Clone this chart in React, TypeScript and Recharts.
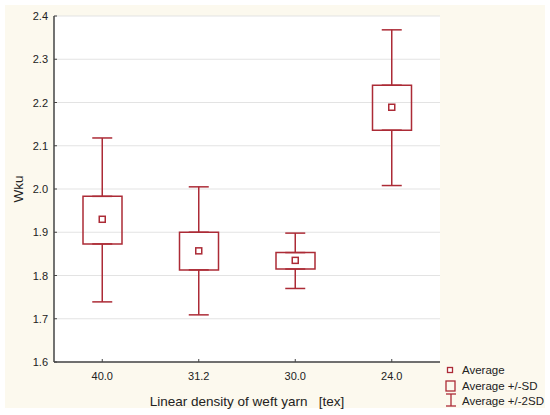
import { CartesianGrid, ComposedChart, Bar, Line, ErrorBar, XAxis, YAxis } from 'recharts';

const CATEGORIES = ['40.0', '31.2', '30.0', '24.0'];
const MEANS = [1.93, 1.857, 1.835, 2.189];
const SD_LOW = [1.873, 1.813, 1.815, 2.136];
const SD_HIGH = [1.983, 1.9, 1.853, 2.24];
const SD2_LOW = [1.739, 1.709, 1.77, 2.008];
const SD2_HIGH = [2.118, 2.005, 1.898, 2.368];
const Y_TICKS = [1.6, 1.7, 1.8, 1.9, 2.0, 2.1, 2.2, 2.3, 2.4];

const RED = '#ac2b36';
const FRAME = '#454545';
const FONT = '"Liberation Sans", Arial, sans-serif';
// non-breaking spaces, Recharts' Text would collapse normal ones
const X_TITLE = 'Linear density of weft yarn\u00A0\u00A0\u00A0[tex]';

const rows = CATEGORIES.map((cat, i) => ({
  cat,
  mean: MEANS[i],
  sd: [SD_LOW[i], SD_HIGH[i]],
  sdLow: SD_LOW[i],
  sdHigh: SD_HIGH[i],
  upErr: [0, SD2_HIGH[i] - SD_HIGH[i]],
  loErr: [SD_LOW[i] - SD2_LOW[i], 0],
}));

const LeftTick = ({ x, y, payload }: any) => (
  <g>
    <line x1={x + 6} x2={x + 9} y1={y} y2={y} stroke={FRAME} />
    <text x={x} y={y} dy={4} textAnchor="end" fontSize={11} fontFamily={FONT} fill="#222">
      {Number(payload.value).toFixed(1)}
    </text>
  </g>
);

const BottomTick = ({ x, y, payload }: any) => (
  <g>
    <line x1={x} x2={x} y1={y - 10} y2={y - 13} stroke={FRAME} />
    <text x={x} y={y} dy="0.71em" textAnchor="middle" fontSize={11} fontFamily={FONT} fill="#222">
      {payload.value}
    </text>
  </g>
);

const TopTick = ({ x, y }: any) => <line x1={x} x2={x} y1={y} y2={y + 3} stroke={FRAME} />;
const RightTick = ({ x, y }: any) => <line x1={x - 3} x2={x} y1={y} y2={y} stroke={FRAME} />;

const MeanDot = ({ cx, cy }: any) =>
  cx == null || cy == null ? <g /> : (
    <rect x={cx - 3} y={cy - 3} width={6} height={6} fill="#fff" stroke={RED} strokeWidth={1.5} />
  );

const LEGEND = ['Average', 'Average +/-SD', 'Average +/-2SD'];

export default function App() {
  return (
    <div style={{ position: 'absolute', left: 0, top: 0, width: 550, height: 415, background: '#fff' }}>
      <div style={{ position: 'absolute', left: 5, top: 5, width: 540, height: 403, background: '#fcf9ee' }} />
      <div style={{ position: 'absolute', left: 0, top: 0 }}>
        <ComposedChart width={550} height={415} data={rows} margin={{ top: 16, right: 110, bottom: 0, left: 8 }}>
          <CartesianGrid vertical={false} stroke="#e3e3e3" fill="#fff" />
          <XAxis
            dataKey="cat"
            height={53}
            tickSize={0}
            tickMargin={10}
            tick={BottomTick}
            axisLine={{ stroke: FRAME, strokeWidth: 1.5 }}
            label={{ value: X_TITLE, position: 'insideBottom', offset: 9, style: { fontSize: 13.5, fontFamily: FONT, fill: '#222' } }}
          />
          <XAxis
            xAxisId="top"
            dataKey="cat"
            orientation="top"
            height={0}
            tickSize={0}
            tickMargin={0}
            tick={TopTick}
            axisLine={{ stroke: FRAME, strokeWidth: 1.5 }}
          />
          <YAxis
            domain={[1.6, 2.4]}
            ticks={Y_TICKS}
            width={46}
            tickSize={0}
            tickMargin={6}
            tick={LeftTick}
            axisLine={{ stroke: FRAME, strokeWidth: 1.5 }}
            label={{ value: 'Wku', angle: -90, position: 'insideLeft', offset: 10, style: { fontSize: 13.5, fontFamily: FONT, fill: '#222', textAnchor: 'middle' } }}
          />
          <YAxis
            yAxisId="right"
            orientation="right"
            domain={[1.6, 2.4]}
            ticks={Y_TICKS}
            width={0}
            tickSize={0}
            tickMargin={0}
            tick={RightTick}
            axisLine={{ stroke: FRAME, strokeWidth: 1.5 }}
          />
          <Line dataKey="sdHigh" stroke="none" dot={false} activeDot={false} isAnimationActive={false}>
            <ErrorBar dataKey="upErr" direction="y" width={10} stroke={RED} strokeWidth={1.5} />
          </Line>
          <Line dataKey="sdLow" stroke="none" dot={false} activeDot={false} isAnimationActive={false}>
            <ErrorBar dataKey="loErr" direction="y" width={10} stroke={RED} strokeWidth={1.5} />
          </Line>
          <Bar dataKey="sd" barSize={39} fill="none" stroke={RED} strokeWidth={1.5} isAnimationActive={false} />
          <Line dataKey="mean" stroke="none" dot={MeanDot} activeDot={false} isAnimationActive={false} />
        </ComposedChart>
      </div>
      <svg style={{ position: 'absolute', left: 444, top: 362 }} width={16} height={48}>
        <rect x={3.5} y={5.5} width={5} height={5} fill="#fff" stroke={RED} strokeWidth={1.3} />
        <rect x={2} y={19} width={9} height={10} fill="none" stroke={RED} strokeWidth={1.3} />
        <line x1={7} x2={7} y1={32} y2={44} stroke={RED} strokeWidth={1.3} />
        <line x1={2} x2={12} y1={32} y2={32} stroke={RED} strokeWidth={1.3} />
        <line x1={2} x2={12} y1={44} y2={44} stroke={RED} strokeWidth={1.3} />
      </svg>
      {LEGEND.map((t, i) => (
        <div
          key={t}
          style={{ position: 'absolute', left: 462, top: 363 + i * 15.5, height: 14, lineHeight: '14px', fontSize: 11.5, fontFamily: FONT, color: '#222', whiteSpace: 'nowrap' }}
        >
          {t}
        </div>
      ))}
    </div>
  );
}
